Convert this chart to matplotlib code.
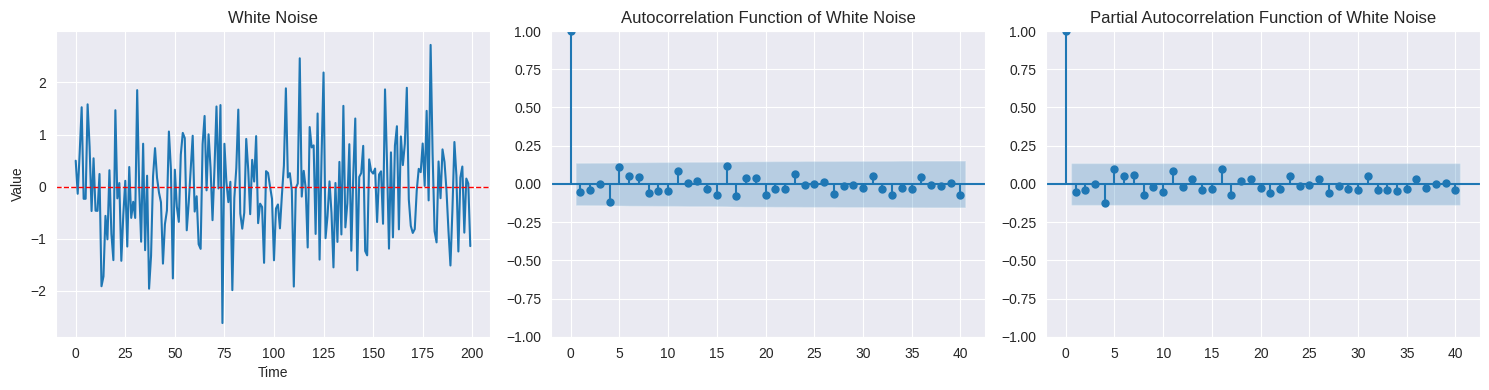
import numpy as np
import matplotlib
matplotlib.use("Agg")
import matplotlib.pyplot as plt
import seaborn as sns

# series values
noise = [
    0.497, -0.138, 0.648, 1.523, -0.234, -0.234, 1.579, 0.767, -0.469, 0.543,
    -0.463, -0.466, 0.242, -1.913, -1.725, -0.562, -1.013, 0.314, -0.908, -1.412,
    1.466, -0.226, 0.068, -1.425, -0.544, 0.111, -1.151, 0.376, -0.601, -0.292,
    -0.602, 1.852, -0.013, -1.058, 0.823, -1.221, 0.209, -1.960, -1.328, 0.197,
    0.738, 0.171, -0.116, -0.301, -1.479, -0.720, -0.461, 1.057, 0.344, -1.763,
    0.324, -0.385, -0.677, 0.612, 1.031, 0.931, -0.839, -0.309, 0.331, 0.976,
    -0.479, -0.186, -1.106, -1.196, 0.813, 1.356, -0.072, 1.004, 0.362, -0.645,
    0.361, 1.538, -0.036, 1.565, -2.620, 0.822, 0.087, -0.299, 0.092, -1.988,
    -0.220, 0.357, 1.478, -0.518, -0.808, -0.502, 0.915, 0.329, -0.530, 0.513,
    0.097, 0.969, -0.702, -0.328, -0.392, -1.464, 0.296, 0.261, 0.005, -0.235,
    -1.415, -0.421, -0.343, -0.802, -0.161, 0.404, 1.886, 0.175, 0.258, -0.074,
    -1.919, -0.027, 0.060, 2.463, -0.192, 0.302, -0.035, -1.169, 1.143, 0.752,
    0.791, -0.909, 1.403, -1.402, 0.587, 2.190, -0.991, -0.566, 0.100, -0.503,
    -1.551, 0.069, -1.062, 0.474, -0.919, 1.550, -0.783, -0.322, 0.814, -1.231,
    0.227, 1.307, -1.607, 0.185, 0.260, 0.782, -1.237, -1.320, 0.522, 0.297,
    0.250, 0.346, -0.680, 0.232, 0.293, -0.714, 1.866, 0.474, -1.191, 0.657,
    -0.975, 0.787, 1.159, -0.821, 0.963, 0.413, 0.822, 1.897, -0.245, -0.754,
    -0.890, -0.816, -0.077, 0.341, 0.277, 0.827, 0.013, 1.454, -0.265, 2.720,
    0.626, -0.857, -1.071, 0.482, -0.223, 0.714, 0.473, -0.073, -0.847, -1.515,
    -0.447, 0.856, 0.214, -1.246, 0.173, 0.385, -0.884, 0.154, 0.058, -1.143,
]

# autocorrelation at lags 0..40
acf_vals = [
    1.000, -0.052, -0.039, 0.002, -0.120, 0.109, 0.052, 0.043, -0.061, -0.043,
    -0.045, 0.087, 0.005, 0.021, -0.034, -0.074, 0.120, -0.077, 0.041, 0.038,
    -0.070, -0.031, -0.033, 0.064, -0.007, -0.002, 0.013, -0.067, -0.015, -0.009,
    -0.027, 0.052, -0.033, -0.071, -0.023, -0.031, 0.043, -0.004, -0.011, 0.007,
    -0.073,
]
# partial autocorrelation at lags 0..40
pacf_vals = [
    1.000, -0.052, -0.042, -0.002, -0.122, 0.098, 0.053, 0.058, -0.069, -0.021,
    -0.055, 0.084, -0.020, 0.032, -0.038, -0.036, 0.100, -0.075, 0.019, 0.033,
    -0.025, -0.056, -0.034, 0.054, -0.013, -0.007, 0.032, -0.059, -0.013, -0.036,
    -0.038, 0.049, -0.042, -0.037, -0.048, -0.033, 0.035, -0.024, 0.003, 0.004,
    -0.041,
]
# confidence band half-widths, lags 1..40
acf_band = [
    0.1386, 0.1390, 0.1392, 0.1392, 0.1412, 0.1428, 0.1431, 0.1434, 0.1439, 0.1441,
    0.1444, 0.1454, 0.1454, 0.1454, 0.1456, 0.1463, 0.1482, 0.1490, 0.1492, 0.1494,
    0.1500, 0.1501, 0.1502, 0.1508, 0.1508, 0.1508, 0.1508, 0.1514, 0.1514, 0.1514,
    0.1515, 0.1518, 0.1520, 0.1526, 0.1527, 0.1528, 0.1530, 0.1530, 0.1531, 0.1531,
]
pacf_band = [0.1386] * 40

sns.set_style("darkgrid")
plt.rcParams["font.family"] = ["Liberation Sans", "DejaVu Sans"]
fig, axes = plt.subplots(1, 3, figsize=(14.89, 3.9), dpi=100)
fig.subplots_adjust(left=0.0376, right=0.994, top=0.9205, bottom=0.136, wspace=0.1406)

ax = axes[0]
ax.plot(range(len(noise)), noise)
ax.axhline(0, color="red", linestyle="--", linewidth=1)
ax.set_title("White Noise")
ax.set_xlabel("Time")
ax.set_ylabel("Value")


def corr_plot(ax, vals, band, title):
    vals = np.asarray(vals)
    band = np.asarray(band)
    lags = np.arange(len(vals))
    ax.vlines(lags, [0], vals)
    ax.axhline()
    ax.margins(0.05)
    ax.plot(lags, vals, marker="o", markersize=5, linestyle="None")
    fl = lags[1:].astype(float)
    fl[0] -= 0.5
    fl[-1] += 0.5
    ax.fill_between(fl, -band, band, alpha=0.25)
    ax.set_title(title)
    ax.set_ylim(-1, 1)


corr_plot(axes[1], acf_vals, acf_band, "Autocorrelation Function of White Noise")
corr_plot(axes[2], pacf_vals, pacf_band, "Partial Autocorrelation Function of White Noise")

plt.savefig("out.png")
